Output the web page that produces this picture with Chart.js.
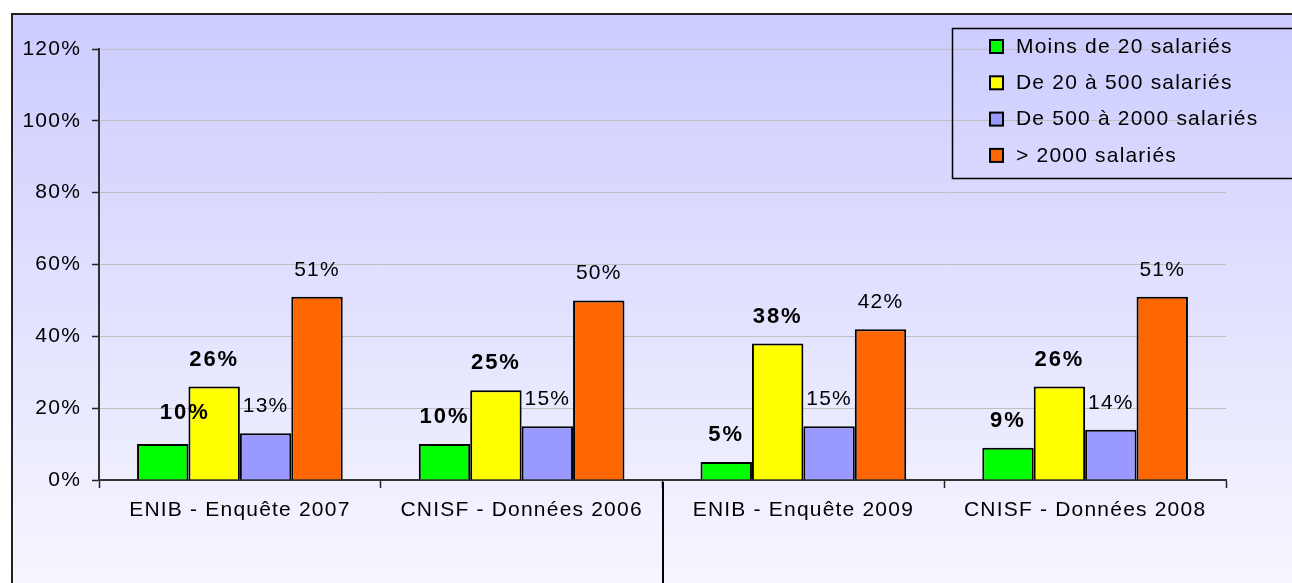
<!DOCTYPE html>
<html>
<head>
<meta charset="utf-8">
<script src="https://cdn.jsdelivr.net/npm/chart.js@4"></script>
<style>
  html, body { margin: 0; padding: 0; background: #fff; }
  #wrap { position: relative; width: 1292px; height: 583px; }
</style>
</head>
<body>
<div id="wrap"><canvas id="barChart" width="1292" height="583"></canvas></div>
<script>
var categories = ['ENIB - Enquête 2007', 'CNISF - Données 2006', 'ENIB - Enquête 2009', 'CNISF - Données 2008'];
var seriesNames = ['Moins de 20 salariés', 'De 20 à 500 salariés', 'De 500 à 2000 salariés', '> 2000 salariés'];
var moins20 = [10, 10, 5, 9];
var de20a500 = [26, 25, 38, 26];
var de500a2000 = [13, 15, 15, 14];
var plus2000 = [51, 50, 42, 51];
var yTicks = [0, 20, 40, 60, 80, 100, 120];

var colors = ['#00ff00', '#ffff00', '#9999ff', '#ff6600'];
var boldLabels = [true, true, false, false];
var FONT = '"Liberation Sans", Arial, sans-serif';
var SPACE = '1.2px';

function spacing(ctx, px) { ctx.letterSpacing = px; }

// letter spacing for all text on the canvas
var spacingPlugin = {
    id: 'spacing',
    beforeLayout: function(chart) { spacing(chart.ctx, SPACE); },
    beforeDraw: function(chart) { spacing(chart.ctx, SPACE); }
};

// white page, framed gradient panel
var framePlugin = {
    id: 'frame',
    beforeDraw: function(chart) {
        var ctx = chart.ctx;
        ctx.save();
        ctx.fillStyle = '#ffffff';
        ctx.fillRect(0, 0, chart.width, chart.height);
        var g = ctx.createLinearGradient(0, 13, 0, chart.height);
        g.addColorStop(0, '#ccccff');
        g.addColorStop(1, '#f6f6ff');
        ctx.fillStyle = g;
        ctx.fillRect(12, 14, chart.width, chart.height);
        ctx.strokeStyle = '#222';
        ctx.lineWidth = 2;
        ctx.strokeRect(12, 14, chart.width + 10, chart.height + 10);
        ctx.restore();
    }
};

// value labels above the bars
var labelPlugin = {
    id: 'valueLabels',
    afterDatasetsDraw: function(chart) {
        var ctx = chart.ctx;
        ctx.save();
        ctx.textAlign = 'center';
        ctx.textBaseline = 'middle';
        ctx.fillStyle = '#000';
        chart.data.datasets.forEach(function(ds, di) {
            var meta = chart.getDatasetMeta(di);
            ctx.font = boldLabels[di] ? 'bold 22px ' + FONT : '21px ' + FONT;
            ctx.letterSpacing = boldLabels[di] ? '2px' : SPACE;
            meta.data.forEach(function(bar, i) {
                var dx = 0, dy = 0;
                if (di === 0 && i === 0) { dx = 22; dy = -4; } // first label sits off to the right
                ctx.fillText(ds.data[i] + '%', bar.x + dx, bar.y - 27 + dy);
            });
        });
        ctx.restore();
    }
};

// legend box + separator between the two pairs of surveys
var extrasPlugin = {
    id: 'extras',
    afterDraw: function(chart) {
        var ctx = chart.ctx;
        var x = chart.scales.x;
        ctx.save();
        // separator
        var sx = Math.round((x.getPixelForValue(1) + x.getPixelForValue(2)) / 2);
        ctx.strokeStyle = '#000';
        ctx.lineWidth = 2;
        ctx.beginPath();
        ctx.moveTo(sx, chart.chartArea.bottom + 2);
        ctx.lineTo(sx, chart.height);
        ctx.stroke();
        // legend
        ctx.lineWidth = 1.5;
        ctx.strokeStyle = '#000';
        ctx.strokeRect(952.5, 28.5, 400, 150);
        ctx.font = '21px ' + FONT;
        ctx.letterSpacing = SPACE;
        ctx.textAlign = 'left';
        ctx.textBaseline = 'middle';
        chart.data.datasets.forEach(function(ds, i) {
            var cy = 46 + i * 36.3;
            ctx.fillStyle = ds.backgroundColor;
            ctx.fillRect(990, cy - 6, 13, 13);
            ctx.strokeStyle = '#000';
            ctx.lineWidth = 2;
            ctx.strokeRect(990, cy - 6, 13, 13);
            ctx.fillStyle = '#000';
            ctx.fillText(ds.label, 1016, cy + 1);
        });
        ctx.restore();
    }
};

var values = [moins20, de20a500, de500a2000, plus2000];

var ctx = document.getElementById('barChart').getContext('2d');
var myChart = new Chart(ctx, {
    type: 'bar',
    data: {
        labels: categories,
        datasets: values.map(function(v, i) {
            return {
                label: seriesNames[i],
                data: v,
                backgroundColor: colors[i],
                borderColor: '#000',
                borderWidth: 2,
                categoryPercentage: 0.73,
                barPercentage: 1.0
            };
        })
    },
    options: {
        responsive: false,
        animation: false,
        devicePixelRatio: 1,
        layout: {
            padding: { left: 0, right: 66, top: 49, bottom: 0 }
        },
        plugins: {
            legend: { display: false },
            tooltip: { enabled: false }
        },
        scales: {
            x: {
                grid: {
                    drawOnChartArea: false,
                    tickLength: 8,
                    tickColor: '#222',
                    tickWidth: 1.5
                },
                border: { color: '#333', width: 2 },
                ticks: {
                    color: '#000',
                    padding: 10,
                    maxRotation: 0,
                    font: { family: FONT, size: 21 }
                },
                afterFit: function(scale) { scale.height = 103; }
            },
            y: {
                min: 0,
                max: 120,
                afterBuildTicks: function(scale) {
                    scale.ticks = yTicks.map(function(v) { return { value: v }; });
                },
                grid: {
                    color: '#c0c0c0',
                    lineWidth: 1,
                    tickLength: 7,
                    tickColor: '#222',
                    tickWidth: 1.5
                },
                border: { color: '#333', width: 2 },
                ticks: {
                    color: '#000',
                    padding: 11,
                    font: { family: FONT, size: 21 },
                    callback: function(v) { return v + '%'; }
                },
                afterFit: function(scale) { scale.width = 99; }
            }
        }
    },
    plugins: [spacingPlugin, framePlugin, labelPlugin, extrasPlugin]
});
</script>
</body>
</html>
